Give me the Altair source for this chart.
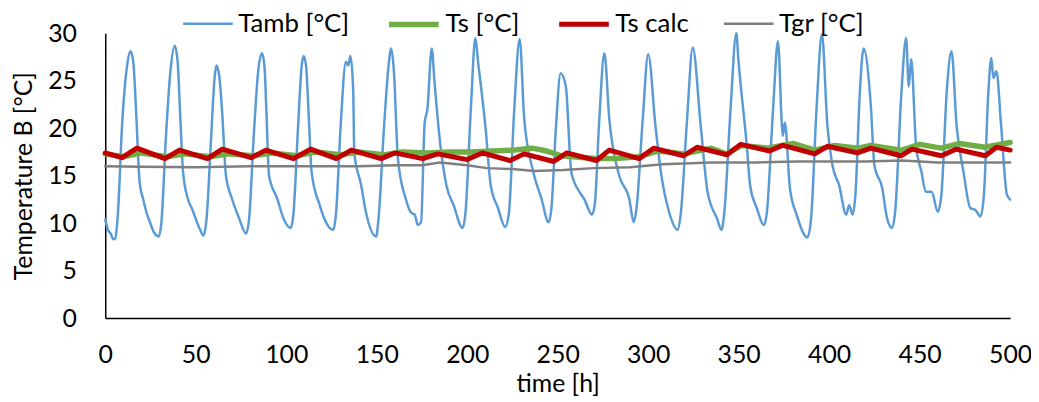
import altair as alt
import pandas as pd

# ---- data ----
tamb_t = [0, 1.5, 3, 4.5, 5.5, 7, 9.3, 12, 14, 15.5, 17, 19, 21, 23, 24.7, 27, 29.6,
          31, 33.5, 36, 38.4, 40, 41.5, 43, 45.6, 48, 52, 54.3,
          56, 58.5, 60.5, 61.4, 63, 64.5, 66.7, 70, 74, 77.8,
          79.5, 82, 84.5, 86.6, 88, 89, 90.5, 95, 98.5, 102.5,
          104, 106.5, 108.5, 109.6, 111, 112.5, 114, 118.5, 121, 126,
          127.5, 130, 133, 134.2, 135.5, 137, 137.6, 141.4, 144, 149.7,
          151, 154, 156.5, 158, 159.5, 161.7, 166, 169, 171, 172.7,
          174.5, 176.5, 178, 180.4, 182, 185, 188.5, 192.5, 197.4,
          199, 202, 204.5, 206, 210, 213, 217, 221,
          223, 226, 229, 231.5, 236.5, 241, 245,
          246.5, 249, 251.6, 254.5, 257.5, 262, 264.5, 269,
          270.5, 273, 275.8, 278.5, 284, 289.5, 292,
          293.5, 297, 300, 304, 307, 311.5, 316.3,
          318, 321.5, 324.6, 329, 332.8, 338, 340.5,
          342, 345.5, 348.7, 349.8, 354.6, 356.3, 360, 364,
          365.5, 369, 371.7, 373.8, 374.4, 375.5, 378.3, 382, 388,
          390, 393, 396, 399, 401.8, 405.5, 409.4, 411, 413,
          414.5, 417, 419, 423, 425, 429.3, 432, 434.7,
          436.4, 440, 442.5, 444, 445.3, 448, 451, 453.4, 456.6, 460,
          462, 465, 467.6, 470.4, 474.2, 478, 480.8, 483.6,
          485.5, 488, 489.6, 490.7, 492.4, 495, 498.2, 500]
tamb_v = [10.4, 9.3, 8.9, 8.3, 8.4, 11, 20.3, 26.5, 28.1, 27, 22, 14.3, 12.5, 11, 10.1, 9, 8.6,
          10, 19, 26, 28.7, 27, 21, 15.4, 12.6, 11.5, 9.5, 8.7,
          10.5, 19, 25.5, 26.6, 25.5, 22, 15, 12.6, 10.5, 8.9,
          10.5, 19, 26, 27.9, 26.5, 22, 15, 12.6, 10.5, 9.5,
          11, 20, 26.5, 27.6, 26.5, 21, 15.4, 11.9, 10.5, 9.3,
          11, 20, 27, 26.6, 27.6, 24, 17.4, 14, 11.2, 8.6,
          10.5, 20, 26.5, 28.4, 26, 16.8, 12.6, 11.1, 10.9, 9.8,
          10.1, 20.6, 22, 28.4, 24.7, 18.5, 14, 11.9, 9.5,
          11, 22, 29.5, 27, 20.3, 14, 11.6, 9.6,
          11, 22, 29.4, 21, 15.4, 12.6, 10.1,
          11.5, 20, 25.8, 24.4, 15.4, 13.3, 12.6, 10.9,
          12, 21, 27.9, 21, 15, 12.6, 10.1,
          11.5, 21, 27.8, 20.3, 15.4, 11.2, 9.3,
          11, 21, 28.5, 20.3, 13.3, 10.5, 9.3,
          11, 22, 30, 27.3, 17.9, 14, 11.6, 9.8,
          11, 22, 29.2, 20.6, 19.2, 20.6, 13.7, 10.9, 8.5,
          10.5, 22, 29.9, 20.3, 16.1, 14, 10.9, 11.9, 10.9,
          13, 24, 28.4, 22.4, 16.1, 13.7, 10.5, 9.5,
          11.1, 24, 29.5, 24.4, 27.3, 18.2, 15.4, 13.3, 13.3, 11.2,
          13, 24, 28.1, 20.3, 15.4, 11.6, 11.4, 10.7,
          13, 24, 27.4, 25.3, 26, 20.3, 13, 12.5]

ts_t = [0, 10, 20, 34, 44, 58, 68, 82, 92, 106, 116, 130, 140, 154, 164, 178, 190, 202,
        214, 226, 236, 244, 252, 265, 272, 282, 295, 305, 320, 335, 343, 352, 366, 380,
        392, 403, 416, 423, 440, 450, 462, 472, 486, 500]
ts_v = [17.3, 17.0, 17.4, 17.0, 17.3, 17.0, 17.3, 17.1, 17.4, 17.1, 17.5, 17.2, 17.5, 17.2,
        17.5, 17.4, 17.5, 17.5, 17.6, 17.7, 17.9, 17.6, 17.1, 16.9, 16.8, 16.8, 17.0, 17.6,
        17.3, 17.9, 17.3, 18.2, 17.9, 18.4, 17.7, 18.2, 17.9, 18.2, 17.7, 18.3, 17.9, 18.4,
        18.0, 18.5]

tsc_t = [0, 9.3, 17.5, 33, 41, 56.5, 64.7, 80.6, 88.8, 104, 113.5, 127.7, 136, 152.4, 160,
         175.4, 183.7, 200, 208.3, 223.7, 231.4, 247.8, 255, 271.4, 278.5, 295, 303, 319.6,
         327, 343.6, 351, 367, 374.4, 392, 399, 415.6, 423, 439.7, 445.7, 462, 470, 486.3,
         492.4, 500]
tsc_v = [17.4, 16.9, 17.9, 16.8, 17.7, 16.8, 17.8, 16.9, 17.7, 16.8, 17.8, 16.8, 17.7, 16.8,
         17.4, 16.8, 17.3, 16.7, 17.4, 16.6, 17.3, 16.5, 17.4, 16.6, 17.7, 16.8, 17.9, 17.1,
         18.0, 17.2, 18.3, 17.6, 18.2, 17.3, 18.1, 17.4, 17.9, 17.1, 17.8, 17.1, 17.8, 17.1,
         18.0, 17.7]

tgr_t = [0, 20, 50, 80, 110, 140, 160, 175, 185, 200, 211, 225, 237, 253, 270, 290, 308,
         335, 360, 383, 420, 440, 460, 500]
tgr_v = [16.0, 15.95, 15.9, 16.0, 16.0, 16.0, 16.1, 16.1, 16.4, 16.1, 15.8, 15.7, 15.5, 15.6,
         15.8, 15.9, 16.2, 16.4, 16.4, 16.5, 16.5, 16.6, 16.4, 16.4]

series_names = ["Tamb [°C]", "Ts [°C]", "Ts calc", "Tgr [°C]"]
series_colors = ["#5B9BD5", "#70AD47", "#C00000", "#7F7F7F"]
series_widths = [2.5, 5.5, 5, 2.5]
x_ticks = list(range(0, 501, 50))
y_ticks = list(range(0, 31, 5))

frames = []
for name, tt, vv in zip(series_names, [tamb_t, ts_t, tsc_t, tgr_t], [tamb_v, ts_v, tsc_v, tgr_v]):
    frames.append(pd.DataFrame({"time": tt, "value": vv, "series": name}))
df = pd.concat(frames, ignore_index=True)

FONT = "Lato"

legend = alt.Legend(
    orient="none", legendX=77, legendY=-37, direction="horizontal", title=None,
    symbolType="stroke", symbolSize=2500, labelFont=FONT, labelFontSize=26,
    labelColor="black", columnPadding=29, labelOffset=4, padding=0,
)

x_enc = alt.X("time:Q", scale=alt.Scale(domain=[0, 500], nice=False),
              axis=alt.Axis(title="time [h]", values=x_ticks, labelFlush=False,
                            labelPadding=25, titlePadding=4))
y_enc = alt.Y("value:Q", scale=alt.Scale(domain=[0, 30], nice=False),
              axis=alt.Axis(title="Temperature B [°C]", values=y_ticks,
                            labelPadding=29, titlePadding=11))
c_enc = alt.Color("series:N", scale=alt.Scale(domain=series_names, range=series_colors),
                  legend=legend)
w_enc = alt.StrokeWidth("series:N",
                        scale=alt.Scale(type="ordinal", domain=series_names, range=series_widths),
                        legend=legend)

layers = []
for i, name in enumerate(series_names):
    interp = "monotone" if i == 0 else "linear"
    layers.append(
        alt.Chart(df).transform_filter(alt.datum.series == name)
        .mark_line(interpolate=interp, strokeJoin="round", strokeCap="round")
        .encode(x=x_enc, y=y_enc, color=c_enc, strokeWidth=w_enc, order="time:Q")
    )

chart = alt.layer(*layers).properties(
    width=912, height=287,
    autosize=alt.AutoSizeParams(type="none"),
    padding={"left": 98, "top": 24, "right": 21, "bottom": 79},
).configure_view(stroke=None).configure_axis(
    grid=False, ticks=False, domainColor="black", domainWidth=1.5,
    labelFont=FONT, labelFontSize=25, labelColor="black",
    titleFont=FONT, titleFontSize=25, titleColor="black", titleFontWeight="normal",
)

chart.save("out.html", embed_options={"renderer": "svg", "actions": False})
